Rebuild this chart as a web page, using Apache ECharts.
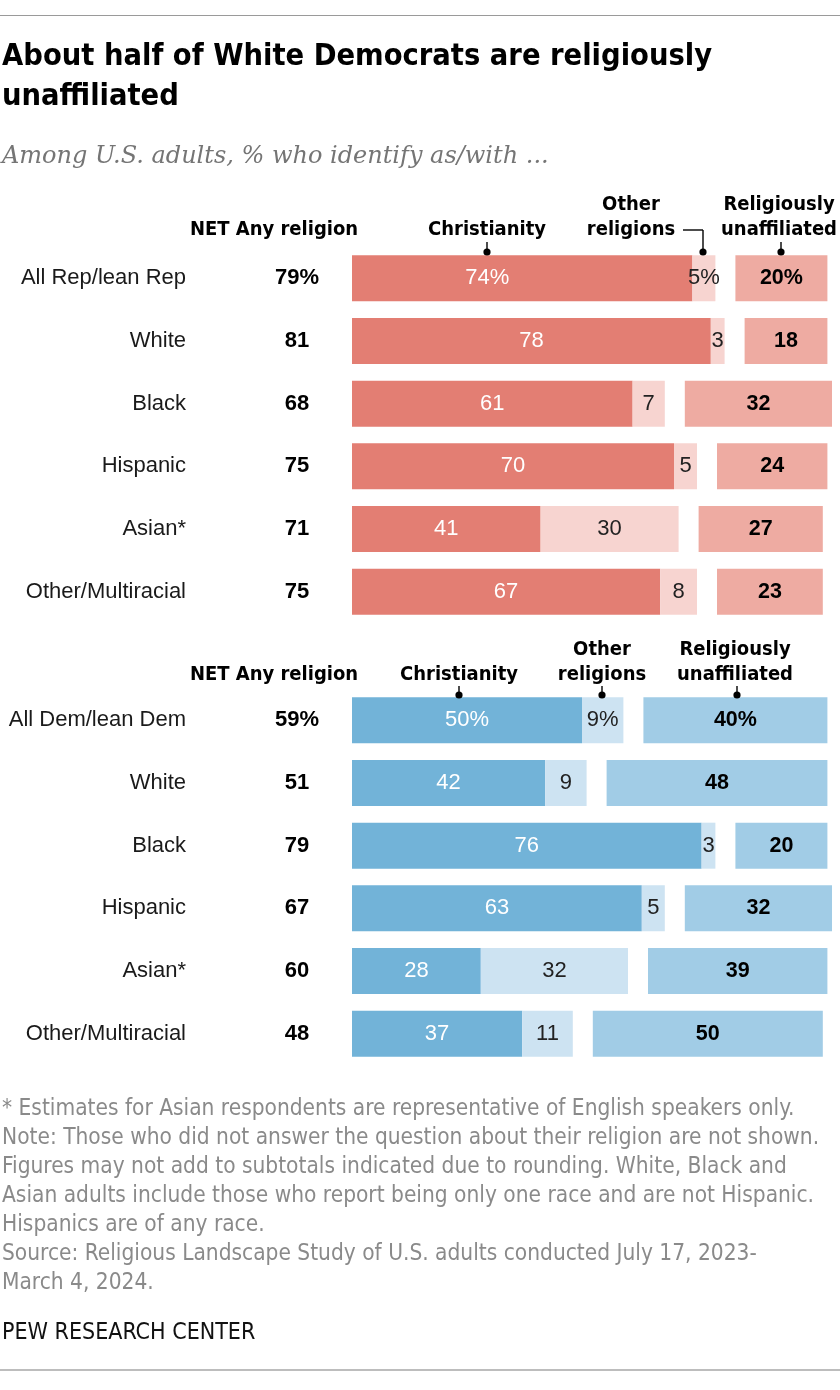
<!DOCTYPE html>
<html>
<head>
<meta charset="utf-8">
<script src="https://cdn.jsdelivr.net/npm/echarts@6/dist/echarts.min.js"></script>
<style>
html,body{margin:0;padding:0;background:#fff;}
#chart{width:840px;height:1390px;}
</style>
</head>
<body>
<div id="chart"></div>
<script>
// ---- Data ----
const repCategories = ['All Rep/lean Rep', 'White', 'Black', 'Hispanic', 'Asian*', 'Other/Multiracial'];
const repNet = [79, 81, 68, 75, 71, 75];
const repChristianity = [74, 78, 61, 70, 41, 67];
const repOther = [5, 3, 7, 5, 30, 8];
const repUnaffiliated = [20, 18, 32, 24, 27, 23];

const demCategories = ['All Dem/lean Dem', 'White', 'Black', 'Hispanic', 'Asian*', 'Other/Multiracial'];
const demNet = [59, 51, 79, 67, 60, 48];
const demChristianity = [50, 42, 76, 63, 28, 37];
const demOther = [9, 9, 3, 5, 32, 11];
const demUnaffiliated = [40, 48, 20, 32, 39, 50];

const footnotes = [
  '* Estimates for Asian respondents are representative of English speakers only.',
  'Note: Those who did not answer the question about their religion are not shown.',
  'Figures may not add to subtotals indicated due to rounding. White, Black and',
  'Asian adults include those who report being only one race and are not Hispanic.',
  'Hispanics are of any race.',
  'Source: Religious Landscape Study of U.S. adults conducted July 17, 2023-',
  'March 4, 2024.'
];

// ---- Styling ----
const SANS = "'Liberation Sans', Arial, sans-serif";
const NARROW = "'DejaVu Sans Condensed', 'Liberation Sans Narrow', sans-serif";
const GAP = 4.35; // visual gap between net-religion block and unaffiliated bar

const repColors = { chr: '#e37e73', oth: '#f7d4d0', una: '#eeaba2' };
const demColors = { chr: '#72b3d8', oth: '#cde3f2', una: '#a1cce6' };

const pct = (v, i) => i === 0 ? v + '%' : String(v);

function makeSeries(gi, chr, oth, una, colors, firstChrOffset) {
  const common = { type: 'bar', stack: 's' + gi, xAxisIndex: gi, yAxisIndex: gi * 2, barWidth: 46, animation: false };
  const chrData = chr.map((v, i) => (i === 0 && firstChrOffset) ? { value: v, label: { offset: [firstChrOffset, 0] } } : v);
  return [
    Object.assign({}, common, {
      name: 'Christianity' + gi, data: chrData, itemStyle: { color: colors.chr },
      label: { show: true, position: 'inside', color: '#fff', fontSize: 22, fontFamily: SANS,
        formatter: p => pct(p.value, p.dataIndex) }
    }),
    Object.assign({}, common, {
      name: 'Other' + gi, data: oth, itemStyle: { color: colors.oth },
      label: { show: true, position: 'inside', color: '#222', fontSize: 22, fontFamily: SANS,
        formatter: p => pct(p.value, p.dataIndex) }
    }),
    Object.assign({}, common, {
      name: 'gap' + gi, data: chr.map(() => GAP), itemStyle: { color: 'rgba(0,0,0,0)' },
      silent: true, label: { show: false }
    }),
    Object.assign({}, common, {
      name: 'Unaffiliated' + gi, data: una, itemStyle: { color: colors.una },
      label: { show: true, position: 'inside', color: '#000', fontSize: 21.5, fontWeight: 'bold', fontFamily: SANS,
        formatter: p => pct(p.value, p.dataIndex) }
    })
  ];
}

function yAxes(gi, cats, net) {
  return [
    { type: 'category', gridIndex: gi, data: cats, inverse: true,
      axisLine: { show: false }, axisTick: { show: false },
      axisLabel: { align: 'right', margin: 166, color: '#1a1a1a', fontSize: 22, fontFamily: SANS } },
    { type: 'category', gridIndex: gi, data: net.map((v, i) => pct(v, i)), inverse: true, position: 'left',
      axisLine: { show: false }, axisTick: { show: false },
      axisLabel: { align: 'center', margin: 55, color: '#000', fontSize: 22, fontWeight: 'bold', fontFamily: SANS } }
  ];
}

function txt(x, y, s, opts) {
  return { type: 'text', x: x, y: y, silent: true, z: 100,
    style: Object.assign({ text: s, fill: '#000', font: 'bold 20px ' + NARROW, textAlign: 'center', textVerticalAlign: 'middle' }, opts || {}) };
}
function line(x1, y1, x2, y2, opts) {
  return { type: 'line', silent: true, z: 100, shape: { x1, y1, x2, y2 }, style: Object.assign({ stroke: '#000', lineWidth: 1.4 }, opts || {}) };
}
function dot(x, y) {
  return { type: 'circle', silent: true, z: 101, shape: { cx: x, cy: y, r: 3.6 }, style: { fill: '#000' } };
}

const graphics = [
  line(0, 15.5, 840, 15.5, { stroke: '#9a9a9a', lineWidth: 1 }),
  txt(2, 57, 'About half of White Democrats are religiously', { textAlign: 'left', font: 'bold 30.5px ' + NARROW }),
  txt(2, 97, 'unaffiliated', { textAlign: 'left', font: 'bold 30.5px ' + NARROW }),
  txt(2, 157, 'Among U.S. adults, % who identify as/with ...', { textAlign: 'left', fill: '#757575', font: "italic 24px 'DejaVu Serif', serif" }),

  // Rep headers
  txt(274, 230, 'NET Any religion'),
  txt(487, 230, 'Christianity'),
  line(487, 242, 487, 252), dot(487, 252),
  txt(631, 205, 'Other'),
  txt(631, 230, 'religions'),
  line(683, 230, 703, 230), line(703, 230, 703, 252), dot(703, 252),
  txt(779, 205, 'Religiously'),
  txt(779, 230, 'unaffiliated'),
  line(781, 242, 781, 252), dot(781, 252),

  // Dem headers
  txt(274, 675, 'NET Any religion'),
  txt(459, 675, 'Christianity'),
  line(459, 686, 459, 695), dot(459, 695),
  txt(602, 650, 'Other'),
  txt(602, 675, 'religions'),
  line(602, 686, 602, 695), dot(602, 695),
  txt(735, 650, 'Religiously'),
  txt(735, 675, 'unaffiliated'),
  line(737, 686, 737, 695), dot(737, 695),

  txt(2, 1333, 'PEW RESEARCH CENTER', { textAlign: 'left', fill: '#111', font: '23px ' + NARROW }),
  line(0, 1370, 840, 1370, { stroke: '#bdbdbd', lineWidth: 2 })
];
footnotes.forEach((s, i) => {
  graphics.push(txt(2, 1109 + i * 29, s, { textAlign: 'left', fill: '#8a8a8a', font: '22.5px ' + NARROW }));
});

const option = {
  backgroundColor: '#fff',
  animation: false,
  grid: [
    { left: 352, top: 247, width: 105 * 4.6, height: 376 },
    { left: 352, top: 689, width: 105 * 4.6, height: 376 }
  ],
  xAxis: [
    { type: 'value', gridIndex: 0, min: 0, max: 105, show: false },
    { type: 'value', gridIndex: 1, min: 0, max: 105, show: false }
  ],
  yAxis: [].concat(yAxes(0, repCategories, repNet), yAxes(1, demCategories, demNet)),
  series: [].concat(
    makeSeries(0, repChristianity, repOther, repUnaffiliated, repColors, -35),
    makeSeries(1, demChristianity, demOther, demUnaffiliated, demColors, 0)
  ),
  graphic: graphics
};

const chart = echarts.init(document.getElementById('chart'), null, { renderer: 'canvas' });
chart.setOption(option);
</script>
</body>
</html>
